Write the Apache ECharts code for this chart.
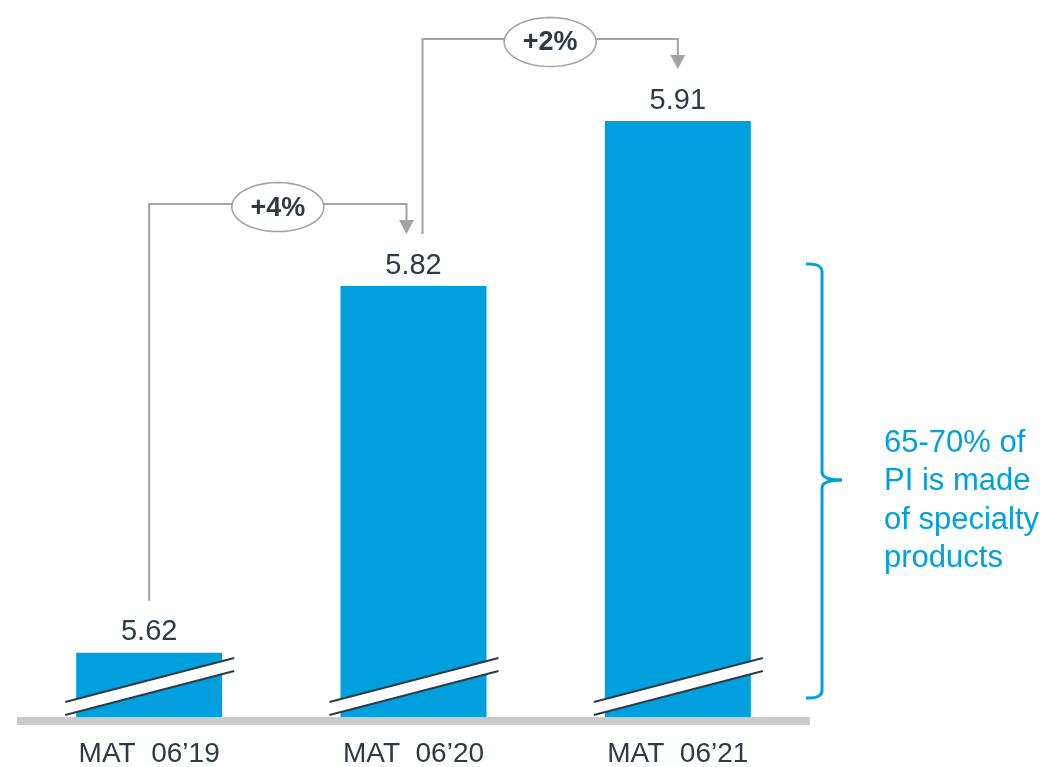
<!DOCTYPE html>
<html>
<head>
<meta charset="utf-8">
<script src="https://cdn.jsdelivr.net/npm/echarts@6/dist/echarts.min.js"></script>
<style>
html,body{margin:0;padding:0;background:#fff;}
#chart{width:1046px;height:767px;}
</style>
</head>
<body>
<div id="chart"></div>
<script>
// ---- data ----
const categories = ['MAT  06\u201919', 'MAT  06\u201920', 'MAT  06\u201921'];
const values = [5.62, 5.82, 5.91];
const growthFrom = [0, 1];
const growthTo = [1, 2];
const growthLabels = ['+4%', '+2%'];
const noteText = ['65-70% of', 'PI is made', 'of specialty', 'products'];

// ---- style ----
const BLUE = '#00a0df';
const DARK = '#2d3b46';
const GRAY = '#a3a3a3';
const AXIS_MIN = 5.585;
const AXIS_MAX = 5.97;
// x offsets of connector start / end relative to bar centre
const connStartDx = [0, 9];
const connEndDx = [-7, 0];

const chart = echarts.init(document.getElementById('chart'), null, {renderer: 'canvas'});

function ellipsePoints(cx, cy, rx, ry) {
  const pts = [];
  for (let k = 0; k < 96; k++) {
    const a = k / 96 * Math.PI * 2;
    pts.push([cx + rx * Math.cos(a), cy + ry * Math.sin(a)]);
  }
  return pts;
}

const bracketStyle = {stroke: BLUE, lineWidth: 3, fill: null};

const option = {
  animation: false,
  backgroundColor: '#fff',
  grid: {left: 17, right: 236, top: 11, bottom: 50, containLabel: false, outerBoundsMode: 'none'},
  xAxis: {
    type: 'category',
    data: categories,
    offset: 4,
    axisLine: {show: true, lineStyle: {color: '#c8cacc', width: 8, cap: 'butt'}},
    axisTick: {show: false},
    axisLabel: {color: DARK, fontSize: 28, fontFamily: 'Liberation Sans, Arial, sans-serif', margin: 19}
  },
  yAxis: {
    type: 'value',
    min: AXIS_MIN,
    max: AXIS_MAX,
    show: false,
    splitLine: {show: false}
  },
  series: [
    {
      type: 'bar',
      data: values,
      barWidth: 146,
      itemStyle: {color: BLUE},
      z: 2,
      label: {
        show: true,
        position: 'top',
        distance: 6,
        color: DARK,
        fontSize: 29,
        fontFamily: 'Liberation Sans, Arial, sans-serif',
        formatter: p => p.value.toFixed(2)
      }
    },
    {
      // axis-break marks on each bar
      type: 'custom',
      z: 5,
      silent: true,
      data: values.map((v, i) => [i, v]),
      renderItem: function (params, api) {
        const base = api.coord([api.value(0), AXIS_MIN]);
        const c = base[0], b = base[1];
        const x1 = c - 84, x2 = c + 85;
        const uL = b - 15, uR = b - 59, lL = b - 2, lR = b - 46;
        return {
          type: 'group',
          children: [
            {type: 'polygon', shape: {points: [[x1, uL], [x2, uR], [x2, lR], [x1, lL]]}, style: {fill: '#fff'}},
            {type: 'line', shape: {x1: x1, y1: uL, x2: x2, y2: uR}, style: {stroke: DARK, lineWidth: 2}},
            {type: 'line', shape: {x1: x1, y1: lL, x2: x2, y2: lR}, style: {stroke: DARK, lineWidth: 2}}
          ]
        };
      }
    },
    {
      // growth connectors
      type: 'custom',
      z: 6,
      silent: true,
      data: growthFrom.map((f, i) => [f, growthTo[i]]),
      renderItem: function (params, api) {
        const i = params.dataIndex;
        const fi = growthFrom[i], ti = growthTo[i];
        const pf = api.coord([fi, values[fi]]);
        const pt = api.coord([ti, values[ti]]);
        const xs = pf[0] + connStartDx[i];
        const ys = pf[1] - 52;
        const xe = pt[0] + connEndDx[i];
        const tip = pt[1] - 52;
        const yh = pt[1] - 82;
        const ah = 14, aw = 7.5;
        const mx = (xs + xe) / 2, my = yh + 3;
        return {
          type: 'group',
          children: [
            {type: 'polyline', shape: {points: [[xs, ys], [xs, yh], [xe, yh], [xe, tip - ah]]},
              style: {stroke: GRAY, lineWidth: 2, fill: null}},
            {type: 'polygon', shape: {points: [[xe - aw, tip - ah], [xe + aw, tip - ah], [xe, tip]]},
              style: {fill: GRAY}},
            {type: 'polygon', shape: {points: ellipsePoints(mx, my, 46, 24.5)},
              style: {fill: '#fff', stroke: GRAY, lineWidth: 1.6}},
            {type: 'text', x: mx, y: my + 1,
              style: {text: growthLabels[i], fill: DARK, font: 'bold 27px "Liberation Sans", Arial, sans-serif',
                align: 'center', verticalAlign: 'middle'}}
          ]
        };
      }
    }
  ],
  graphic: [
    {type: 'bezierCurve', shape: {x1: 806, y1: 264, cpx1: 822, cpy1: 263, x2: 822, y2: 272}, style: bracketStyle, silent: true},
    {type: 'line', shape: {x1: 822, y1: 272, x2: 822, y2: 472}, style: bracketStyle, silent: true},
    {type: 'bezierCurve', shape: {x1: 822, y1: 472, cpx1: 822, cpy1: 480, x2: 842, y2: 480}, style: bracketStyle, silent: true},
    {type: 'bezierCurve', shape: {x1: 842, y1: 480, cpx1: 822, cpy1: 480, x2: 822, y2: 488}, style: bracketStyle, silent: true},
    {type: 'line', shape: {x1: 822, y1: 488, x2: 822, y2: 690}, style: bracketStyle, silent: true},
    {type: 'bezierCurve', shape: {x1: 822, y1: 690, cpx1: 822, cpy1: 699, x2: 806, y2: 698}, style: bracketStyle, silent: true},
    {
      type: 'text',
      x: 884,
      y: 424,
      style: {
        text: noteText.join('\n'),
        fill: BLUE,
        font: '31px "Liberation Sans", Arial, sans-serif',
        lineHeight: 38.5
      },
      silent: true
    }
  ]
};

chart.setOption(option);
</script>
</body>
</html>
